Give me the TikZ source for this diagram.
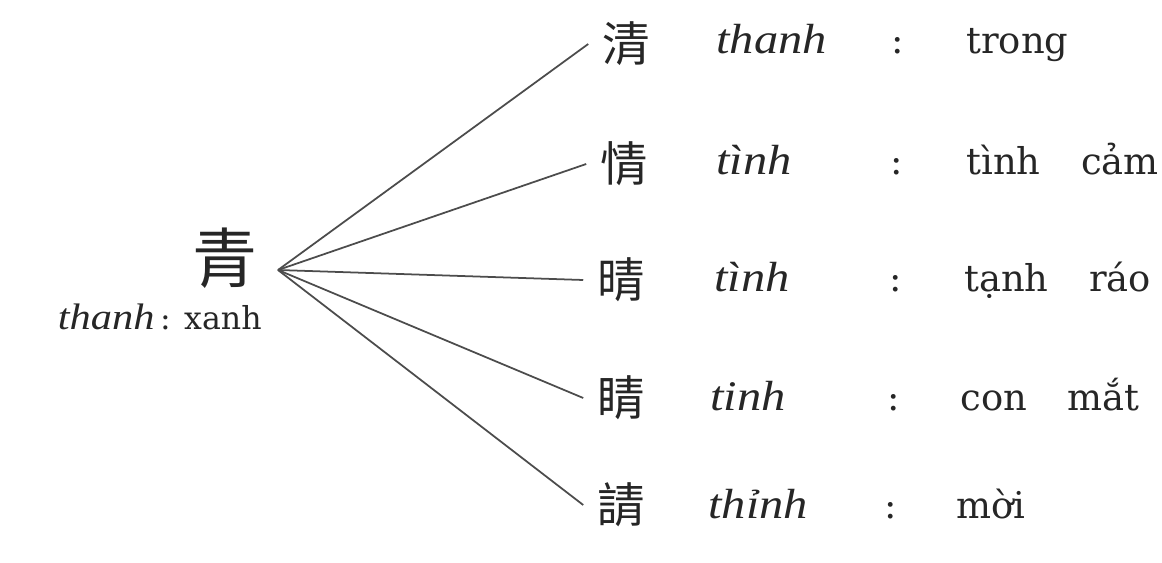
\documentclass[tikz,border=0pt]{standalone}
\usepackage{fontspec}
\setmainfont{DejaVu Serif}
\newfontfamily\romfont[FakeStretch=1.15]{Liberation Serif}
\newfontfamily\cjkfont{Noto Sans CJK TC}
\begin{document}
\begin{tikzpicture}[x=0.02cm,y=-0.02cm,
  han/.style={font=\cjkfont\fontsize{27}{27}\selectfont, inner sep=0pt, outer xsep=8pt, text=black!85},
  bighan/.style={font=\cjkfont\fontsize{37}{37}\selectfont, inner sep=0pt, text=black!85},
  rom/.style={font=\romfont\itshape\fontsize{24}{24}\selectfont, anchor=base west, inner sep=0pt, text=black!85},
  mean/.style={font=\fontsize{21}{21}\selectfont, anchor=base west, inner sep=0pt, text=black!85},
  col/.style={font=\fontsize{21}{21}\selectfont, anchor=base, inner sep=0pt, text=black!85},
  link/.style={draw=black!70, line width=1pt}]
\useasboundingbox (0,0) rectangle (1162,563);
\coordinate (hub) at (278,270);
\node[bighan] (h0) at (225,258) {青};
\node[anchor=base east, inner sep=0pt, text=black!85] (t0) at (262,330)
  {{\romfont\itshape\fontsize{21}{21}\selectfont thanh} {\fontsize{18}{18}\selectfont : xanh}};
% rows
\node[han] (c1) at (626,44) {清};
\node[rom] (r1) at (716,54) {thanh};
\node[col] (k1) at (898,54) {:};
\node[mean] (m1) at (966,54) {trong};

\node[han] (c2) at (624,164) {情};
\node[rom] (r2) at (716,175) {tình};
\node[col] (k2) at (897,175) {:};
\node[mean] (m2) at (966,175) {tình\hspace{1.1em}cảm};

\node[han] (c3) at (621,280) {晴};
\node[rom] (r3) at (714,292) {tình};
\node[col] (k3) at (896,292) {:};
\node[mean] (m3) at (964,292) {tạnh\hspace{1.1em}ráo};

\node[han] (c4) at (621,398) {睛};
\node[rom] (r4) at (710,411) {tinh};
\node[col] (k4) at (894,411) {:};
\node[mean] (m4) at (960,411) {con\hspace{1.1em}mắt};

\node[han] (c5) at (621,505) {請};
\node[rom] (r5) at (708,518) {thỉnh};
\node[col] (k5) at (891,518) {:};
\node[mean] (m5) at (956,518) {mời};

\foreach \i in {1,...,5} \draw[link] (hub) -- (c\i.west);
\end{tikzpicture}
\end{document}
